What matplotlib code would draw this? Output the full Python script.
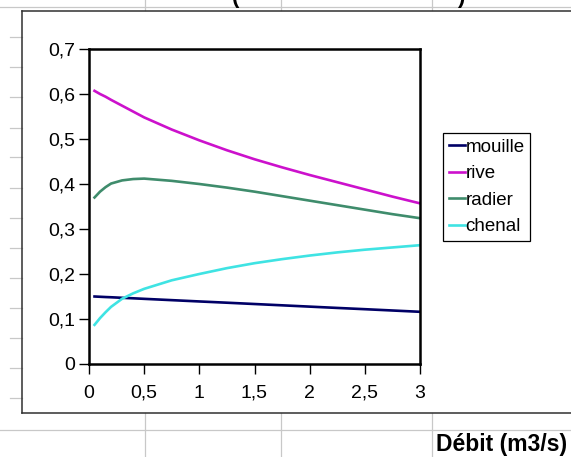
import matplotlib
matplotlib.use("Agg")
import matplotlib.pyplot as plt
from matplotlib.lines import Line2D

plt.rcParams['font.family'] = ['Liberation Sans', 'DejaVu Sans']

# Débit (m3/s) et valeurs par faciès
debit = [0.05, 0.1, 0.15, 0.2, 0.3, 0.4, 0.5, 0.75, 1, 1.25, 1.5, 1.75, 2, 2.25, 2.5, 2.75, 3]
mouille = [0.150, 0.1494, 0.1488, 0.1483, 0.1471, 0.146, 0.1448, 0.1419, 0.139,
           0.1362, 0.1333, 0.1304, 0.1275, 0.1246, 0.1218, 0.1189, 0.116]
rive = [0.607, 0.600, 0.594, 0.587, 0.574, 0.561, 0.548, 0.521, 0.497,
        0.475, 0.455, 0.437, 0.420, 0.404, 0.388, 0.372, 0.357]
radier = [0.370, 0.383, 0.393, 0.401, 0.408, 0.411, 0.412, 0.407, 0.400,
          0.392, 0.383, 0.373, 0.363, 0.353, 0.343, 0.333, 0.324]
chenal = [0.087, 0.102, 0.115, 0.127, 0.145, 0.157, 0.167, 0.186, 0.200,
          0.213, 0.224, 0.233, 0.241, 0.248, 0.254, 0.259, 0.264]

series_names = ['mouille', 'rive', 'radier', 'chenal']
series_colors = ['#000066', '#cc11cc', '#3f8c6c', '#3fe3e3']

xticks = [0, 0.5, 1, 1.5, 2, 2.5, 3]
xtick_labels = ['0', '0,5', '1', '1,5', '2', '2,5', '3']
yticks = [0, 0.1, 0.2, 0.3, 0.4, 0.5, 0.6, 0.7]
ytick_labels = ['0', '0,1', '0,2', '0,3', '0,4', '0,5', '0,6', '0,7']

W, H = 571, 457
fig = plt.figure(figsize=(W / 100, H / 100), dpi=100)
fig.patch.set_facecolor('white')


def px(x, y):
    return x / W, 1 - y / H


def fig_line(x0, y0, x1, y1, color='#c8c8c8', lw=0.9):
    (fx0, fy0), (fx1, fy1) = px(x0, y0), px(x1, y1)
    fig.add_artist(Line2D([fx0, fx1], [fy0, fy1], transform=fig.transFigure,
                          color=color, lw=lw, zorder=0))


# spreadsheet grid behind the chart
fig_line(0, 6.5, W, 6.5)
fig_line(0, 429.5, W, 429.5)
for y in [36.5, 66.5, 97, 127.5, 157, 187.5, 218, 248, 278, 308, 338, 368, 398]:
    fig_line(10, y, 22, y)
for x in [145, 281, 432]:
    fig_line(x, 0, x, 10)
    fig_line(x, 413, x, H)

# chart area border
fig_line(22.5, 10.5, W, 10.5, color='#303030', lw=1.1)
fig_line(22.5, 10.5, 22.5, 413, color='#303030', lw=1.1)
fig_line(22.5, 413, W, 413, color='#303030', lw=1.1)

# bottom of the cut-off title
fig.text(*px(236, 2.5), '(', fontsize=16, fontweight='bold', ha='center', va='baseline')
fig.text(*px(461, 2.5), ')', fontsize=16, fontweight='bold', ha='center', va='baseline')

l, b = px(89, 364)
r, t = px(420, 49)
ax = fig.add_axes([l, b, r - l, t - b])

for name, vals, c in zip(series_names, [mouille, rive, radier, chenal], series_colors):
    ax.plot(debit, vals, color=c, lw=1.9, label=name)

ax.set_xlim(0, 3)
ax.set_ylim(0, 0.7)
ax.set_xticks(xticks)
ax.set_xticklabels(xtick_labels)
ax.set_yticks(yticks)
ax.set_yticklabels(ytick_labels)
ax.tick_params(axis='both', direction='out', length=7, width=1, labelsize=14, colors='black')
ax.tick_params(axis='x', pad=8)
ax.tick_params(axis='y', pad=3)
for s in ax.spines.values():
    s.set_linewidth(1.8)
    s.set_color('black')

leg = fig.legend(loc='upper left', bbox_to_anchor=px(443, 133), bbox_transform=fig.transFigure,
                 fontsize=13.5, frameon=True, fancybox=False, framealpha=1,
                 edgecolor='black', borderaxespad=0, handlelength=0.85, handletextpad=0.05,
                 labelspacing=0.5, borderpad=0.3)
leg.get_frame().set_linewidth(0.9)

fig.text(*px(436, 444), 'Débit (m3/s)', fontsize=16.5, fontweight='bold', ha='left', va='center')

fig.savefig('out.png', dpi=100)
